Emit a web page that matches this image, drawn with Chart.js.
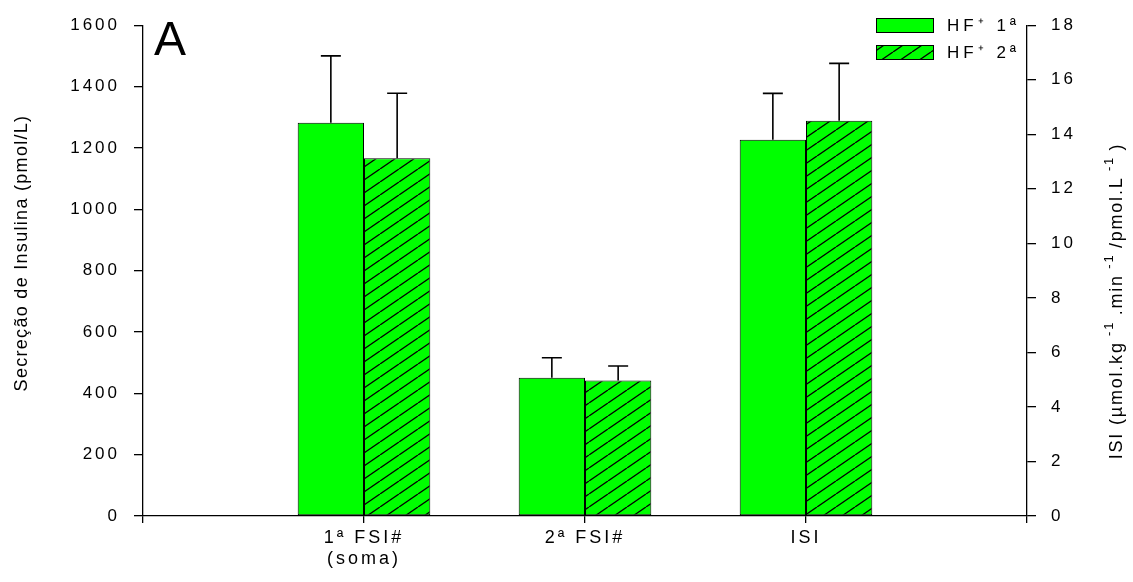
<!DOCTYPE html>
<html>
<head>
<meta charset="utf-8">
<script src="https://cdn.jsdelivr.net/npm/chart.js@4"></script>
<style>
  body { margin: 0; background: #fff; }
  #wrap { width: 1133px; height: 582px; position: relative; }
</style>
</head>
<body>
<div id="wrap"><canvas id="barChart"></canvas></div>
<script>
// categories (empty ones at the two ends of the axis)
const categories = ['', ['1ª FSI#', '(soma)'], '2ª FSI#', 'ISI', ''];
const seriesNames = ['HF⁺ 1ª', 'HF⁺ 2ª'];

// Secreção de Insulina (pmol/L) - left axis
const hf1Secrecao = [null, 1282, 451, null, null];
const hf2Secrecao = [null, 1166, 442, null, null];
const hf1SecrecaoErr = [null, 218, 65, null, null];
const hf2SecrecaoErr = [null, 212, 47, null, null];

// ISI - right axis
const hf1ISI = [null, null, null, 13.8, null];
const hf2ISI = [null, null, null, 14.5, null];
const hf1ISIErr = [null, null, null, 1.7, null];
const hf2ISIErr = [null, null, null, 2.1, null];

const leftTicks = [0, 200, 400, 600, 800, 1000, 1200, 1400, 1600];
const rightTicks = [0, 2, 4, 6, 8, 10, 12, 14, 16, 18];

const FONT = '"Liberation Sans", Arial, sans-serif';
const GREEN = '#00ff00';

function makeHatch() {
    const W = 19, H = 13;
    const c = document.createElement('canvas');
    c.width = W; c.height = H;
    const g = c.getContext('2d');
    g.fillStyle = GREEN;
    g.fillRect(0, 0, W, H);
    g.strokeStyle = '#000';
    g.lineWidth = 1.3;
    for (const dx of [-W, 0, W]) {
        g.beginPath();
        g.moveTo(dx, H);
        g.lineTo(dx + W, 0);
        g.stroke();
    }
    return g.createPattern(c, 'repeat');
}
const hatch = makeHatch();

const errs = [hf1SecrecaoErr, hf2SecrecaoErr, hf1ISIErr, hf2ISIErr];

// text pieces: [text, superscript?]
function drawRich(ctx, parts, cx, cy, size, sup) {
    let total = 0;
    parts.forEach(p => {
        ctx.font = (p[1] ? sup : size) + 'px ' + FONT;
        total += ctx.measureText(p[0]).width;
    });
    let x = cx - total / 2;
    parts.forEach(p => {
        ctx.font = (p[1] ? sup : size) + 'px ' + FONT;
        ctx.fillText(p[0], x, p[1] ? cy - size * 0.4 : cy);
        x += ctx.measureText(p[0]).width;
    });
}

const extrasPlugin = {
    id: 'extras',
    beforeDraw(chart) {
        chart.ctx.letterSpacing = '3px';
    },
    afterDatasetsDraw(chart) {
        const ctx = chart.ctx;
        ctx.save();
        ctx.strokeStyle = '#000';
        ctx.lineWidth = 1.6;
        chart.data.datasets.forEach((ds, i) => {
            const meta = chart.getDatasetMeta(i);
            const scale = chart.scales[ds.yAxisID];
            meta.data.forEach((el, j) => {
                const v = ds.data[j];
                const e = errs[i][j];
                if (v == null || e == null) return;
                const yTop = scale.getPixelForValue(v + e);
                ctx.beginPath();
                ctx.moveTo(el.x, el.y);
                ctx.lineTo(el.x, yTop);
                ctx.moveTo(el.x - 10, yTop);
                ctx.lineTo(el.x + 10, yTop);
                ctx.stroke();
            });
        });
        ctx.restore();
    },
    afterDraw(chart) {
        const ctx = chart.ctx;
        const area = chart.chartArea;
        ctx.save();
        ctx.letterSpacing = '0px';
        ctx.fillStyle = '#000';

        // panel letter
        ctx.font = '48px ' + FONT;
        ctx.textAlign = 'left';
        ctx.textBaseline = 'alphabetic';
        ctx.fillText('A', area.left + 11, 55);

        // axis titles
        ctx.letterSpacing = '1.3px';
        ctx.font = '18px ' + FONT;
        ctx.textAlign = 'center';
        ctx.textBaseline = 'middle';
        ctx.save();
        ctx.translate(22, 253);
        ctx.rotate(-Math.PI / 2);
        ctx.fillText('Secreção de Insulina (pmol/L)', 0, 0);
        ctx.restore();
        ctx.save();
        ctx.translate(1117, 301);
        ctx.rotate(-Math.PI / 2);
        ctx.textAlign = 'left';
        ctx.letterSpacing = '1.8px';
        drawRich(ctx, [['ISI (µmol.kg', false], [' -1 ', true], ['.min', false], [' -1 ', true],
            ['/pmol.L', false], [' -1 ', true], [')', false]], 0, 0, 18, 13);
        ctx.restore();

        // legend
        const fills = [GREEN, hatch];
        const boxX = 876, boxW = 57, boxH = 14;
        const rows = [18, 45];
        ctx.font = '17px ' + FONT;
        ctx.letterSpacing = '4px';
        ctx.textAlign = 'left';
        rows.forEach((y, k) => {
            ctx.fillStyle = fills[k];
            ctx.fillRect(boxX, y, boxW, boxH);
            ctx.strokeStyle = '#000';
            ctx.lineWidth = 1;
            ctx.strokeRect(boxX + 0.5, y + 0.5, boxW, boxH);
            ctx.fillStyle = '#000';
            ctx.fillText(seriesNames[k], 947, y + boxH / 2 + 1);
        });
        ctx.restore();
    }
};

const ctx = document.getElementById('barChart').getContext('2d');
const barChart = new Chart(ctx, {
    type: 'bar',
    data: {
        labels: categories,
        datasets: [
            { label: seriesNames[0], data: hf1Secrecao, yAxisID: 'yLeft', backgroundColor: GREEN },
            { label: seriesNames[1], data: hf2Secrecao, yAxisID: 'yLeft', backgroundColor: hatch },
            { label: seriesNames[0], data: hf1ISI, yAxisID: 'yRight', backgroundColor: GREEN },
            { label: seriesNames[1], data: hf2ISI, yAxisID: 'yRight', backgroundColor: hatch }
        ]
    },
    options: {
        responsive: true,
        maintainAspectRatio: false,
        animation: false,
        layout: { padding: { top: 19, left: 0, right: 0, bottom: 0 } },
        datasets: {
            bar: {
                skipNull: true,
                categoryPercentage: 0.6,
                barPercentage: 1.0,
                borderColor: '#000',
                borderWidth: 1,
                borderSkipped: false
            }
        },
        plugins: {
            legend: { display: false },
            tooltip: { enabled: false }
        },
        scales: {
            x: {
                offset: false,
                grid: { offset: false, drawOnChartArea: false, color: '#000', tickLength: 7, lineWidth: 1.3 },
                border: { color: '#000', width: 1.3 },
                ticks: { color: '#000', font: { family: FONT, size: 18 }, padding: 4, maxRotation: 0, autoSkip: false },
                afterFit(scale) { scale.height = 66; }
            },
            yLeft: {
                position: 'left',
                min: 0,
                max: 1600,
                afterBuildTicks(scale) { scale.ticks = leftTicks.map(v => ({ value: v })); },
                grid: { drawOnChartArea: false, color: '#000', tickLength: 9, lineWidth: 1.3 },
                border: { color: '#000', width: 1.3 },
                ticks: { color: '#000', font: { family: FONT, size: 17 }, padding: 14, callback: v => String(v) },
                afterFit(scale) { scale.width = 143; }
            },
            yRight: {
                position: 'right',
                min: 0,
                max: 18,
                afterBuildTicks(scale) { scale.ticks = rightTicks.map(v => ({ value: v })); },
                grid: { drawOnChartArea: false, color: '#000', tickLength: 9, lineWidth: 1.3 },
                border: { color: '#000', width: 1.3 },
                ticks: { color: '#000', font: { family: FONT, size: 17 }, padding: 15, callback: v => String(v) },
                afterFit(scale) { scale.width = 106; }
            }
        }
    },
    plugins: [extrasPlugin]
});
</script>
</body>
</html>
